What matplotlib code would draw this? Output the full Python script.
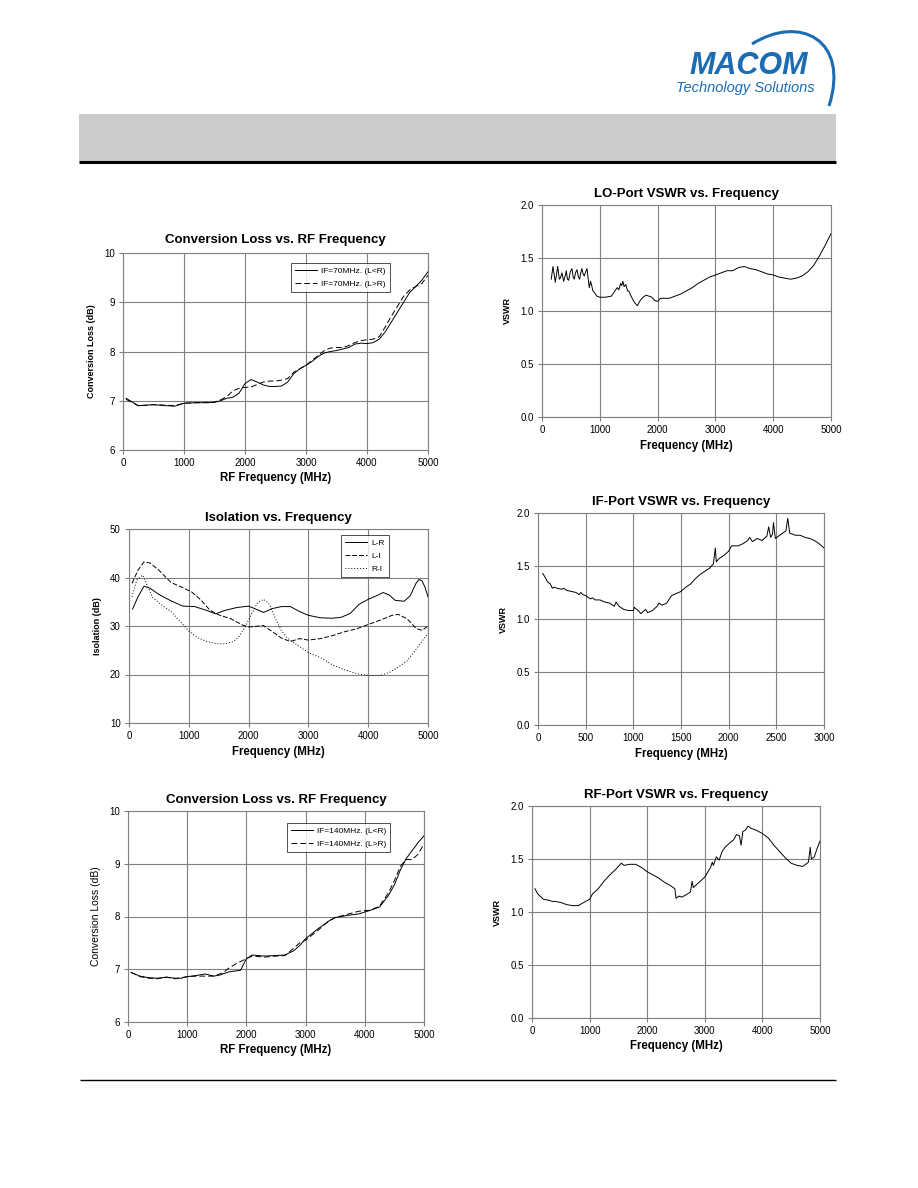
import numpy as np
import matplotlib
matplotlib.use('Agg')
import matplotlib.pyplot as plt
from matplotlib.patches import Rectangle, PathPatch
from matplotlib.path import Path

plt.rcParams['font.family'] = ['Liberation Sans', 'DejaVu Sans']

# --- Conversion loss, IF = 70 MHz ---
cl70_f_lr = [50, 250, 500, 700, 850, 1000, 1200, 1400, 1500, 1600, 1700, 1800, 1900, 2000, 2100,
             2200, 2300, 2400, 2500, 2600, 2700, 2800, 2900, 3000, 3100, 3200, 3300, 3400, 3500,
             3600, 3700, 3800, 3900, 4000, 4100, 4200, 4300, 4400, 4500, 4600, 4700, 4800, 4900, 5000]
cl70_lr = [7.05, 6.90, 6.92, 6.90, 6.89, 6.95, 6.96, 6.96, 6.97, 7.00, 7.05, 7.07, 7.15, 7.35, 7.43,
           7.38, 7.32, 7.29, 7.29, 7.30, 7.38, 7.55, 7.65, 7.72, 7.80, 7.90, 7.97, 8.00, 8.02,
           8.05, 8.08, 8.15, 8.17, 8.16, 8.18, 8.25, 8.40, 8.60, 8.80, 9.00, 9.20, 9.32, 9.45, 9.62]
cl70_f_gr = [50, 250, 500, 700, 850, 1000, 1200, 1500, 1600, 1700, 1800, 1900, 2000, 2100, 2200,
             2300, 2400, 2500, 2600, 2700, 2800, 2900, 3000, 3100, 3200, 3300, 3400, 3500, 3600,
             3700, 3800, 3900, 4000, 4100, 4200, 4300, 4400, 4500, 4600, 4700, 4800, 4900, 5000]
cl70_gr = [7.03, 6.90, 6.92, 6.91, 6.90, 6.95, 6.96, 6.97, 7.02, 7.08, 7.20, 7.25, 7.27, 7.28, 7.33,
           7.38, 7.40, 7.40, 7.42, 7.45, 7.58, 7.65, 7.72, 7.82, 7.92, 8.02, 8.07, 8.08, 8.08,
           8.12, 8.18, 8.22, 8.24, 8.25, 8.30, 8.50, 8.72, 8.92, 9.12, 9.25, 9.32, 9.38, 9.55]

# --- LO port VSWR ---
lo_f = [160, 190, 230, 271, 300, 317, 345, 374, 400, 420, 440, 461, 490, 518, 540, 559, 580, 605,
        630, 651, 670, 691, 710, 731, 755, 778, 800, 818, 840, 860, 880, 900, 950, 1000, 1100, 1200,
        1250, 1300, 1330, 1360, 1380, 1400, 1420, 1450, 1480, 1500, 1550, 1600, 1650, 1700, 1750,
        1800, 1850, 1900, 1950, 2000, 2050, 2100, 2200, 2300, 2400, 2500, 2600, 2700, 2800, 2900,
        3000, 3100, 3200, 3300, 3400, 3500, 3600, 3700, 3800, 3900, 4000, 4100, 4200, 4300, 4400,
        4500, 4600, 4700, 4800, 4900, 5000]
lo_vswr = [1.30, 1.42, 1.27, 1.42, 1.30, 1.31, 1.36, 1.28, 1.33, 1.38, 1.30, 1.29, 1.37, 1.40, 1.32,
           1.30, 1.36, 1.39, 1.32, 1.30, 1.36, 1.40, 1.35, 1.33, 1.37, 1.40, 1.30, 1.22, 1.28, 1.24,
           1.19, 1.18, 1.14, 1.13, 1.13, 1.14, 1.18, 1.22, 1.20, 1.26, 1.24, 1.28, 1.23, 1.25, 1.19,
           1.19, 1.13, 1.08, 1.05, 1.10, 1.13, 1.15, 1.14, 1.13, 1.10, 1.09, 1.12, 1.12, 1.12, 1.14,
           1.16, 1.19, 1.22, 1.26, 1.29, 1.32, 1.34, 1.36, 1.38, 1.38, 1.41, 1.42, 1.40, 1.39, 1.37,
           1.35, 1.34, 1.32, 1.31, 1.30, 1.31, 1.33, 1.37, 1.43, 1.52, 1.62, 1.73]

# --- Isolation ---
iso_f_lr = [60, 150, 250, 350, 500, 700, 900, 1100, 1300, 1450, 1600, 1800, 2000, 2100, 2250, 2400,
            2550, 2700, 2850, 3000, 3200, 3400, 3550, 3700, 3850, 4000, 4150, 4250, 4350, 4450, 4600,
            4700, 4800, 4850, 4900, 4950, 5000]
iso_lr = [33.5, 36.0, 38.2, 37.8, 36.5, 35.2, 34.1, 34.0, 33.2, 32.5, 33.2, 33.8, 34.1, 33.6, 32.8,
          33.6, 34.0, 34.0, 33.0, 32.2, 31.7, 31.6, 31.8, 32.6, 34.5, 35.5, 36.3, 36.9, 36.4, 35.3,
          35.1, 36.2, 38.8, 39.6, 39.3, 38.0, 36.0]
iso_f_li = [50, 150, 250, 350, 500, 700, 900, 1050, 1200, 1350, 1500, 1700, 1900, 2000, 2100, 2250,
            2400, 2550, 2700, 2850, 3000, 3200, 3400, 3600, 3800, 4000, 4200, 4400, 4500, 4650, 4800,
            4900, 5000]
iso_li = [38.8, 41.5, 43.2, 43.0, 41.5, 39.0, 37.9, 37.0, 35.4, 33.3, 32.3, 31.5, 30.2, 29.8, 29.9,
          30.1, 28.8, 27.5, 26.8, 27.4, 27.1, 27.4, 28.0, 28.8, 29.4, 30.3, 31.2, 32.2, 32.4, 31.5,
          29.5, 29.1, 30.0]
iso_f_ri = [50, 130, 230, 300, 400, 550, 700, 850, 1000, 1150, 1300, 1450, 1600, 1750, 1850, 1950,
            2050, 2150, 2250, 2350, 2450, 2550, 2650, 2800, 3000, 3200, 3400, 3600, 3800, 4000, 4200,
            4350, 4500, 4650, 4800, 5000]
iso_ri = [36.0, 39.5, 40.5, 38.5, 35.8, 34.3, 33.0, 31.0, 29.0, 27.6, 26.8, 26.4, 26.3, 26.8, 28.0,
          30.0, 32.5, 34.8, 35.5, 34.5, 31.5, 29.0, 27.5, 26.2, 24.5, 23.5, 22.0, 21.0, 20.2, 19.8,
          19.8, 20.4, 21.5, 22.8, 25.2, 28.5]

# --- IF port VSWR ---
if_f = [50, 70, 100, 130, 150, 170, 200, 250, 270, 300, 350, 400, 430, 450, 470, 500, 550, 570, 600,
        650, 700, 750, 800, 820, 850, 900, 950, 1000, 1010, 1050, 1080, 1100, 1130, 1150, 1200, 1250,
        1270, 1300, 1350, 1400, 1450, 1500, 1550, 1600, 1650, 1700, 1750, 1800, 1840, 1860, 1870,
        1900, 1950, 2000, 2030, 2100, 2150, 2200, 2220, 2250, 2300, 2350, 2400, 2420, 2440, 2460,
        2470, 2490, 2550, 2600, 2620, 2640, 2700, 2750, 2800, 2850, 2900, 2950, 3000]
if_vswr = [1.43, 1.40, 1.35, 1.33, 1.29, 1.30, 1.29, 1.28, 1.29, 1.27, 1.26, 1.25, 1.23, 1.25, 1.23,
           1.22, 1.19, 1.20, 1.18, 1.18, 1.16, 1.15, 1.12, 1.16, 1.12, 1.09, 1.08, 1.08, 1.11, 1.08,
           1.05, 1.07, 1.09, 1.06, 1.08, 1.12, 1.15, 1.13, 1.15, 1.22, 1.24, 1.26, 1.30, 1.33, 1.38,
           1.42, 1.45, 1.48, 1.52, 1.67, 1.54, 1.57, 1.60, 1.64, 1.69, 1.69, 1.71, 1.74, 1.77, 1.73,
           1.76, 1.74, 1.78, 1.87, 1.77, 1.80, 1.91, 1.76, 1.80, 1.83, 1.95, 1.81, 1.79, 1.79, 1.77,
           1.76, 1.74, 1.71, 1.67]

# --- Conversion loss, IF = 140 MHz ---
cl140_f_lr = [50, 200, 350, 500, 650, 800, 900, 1000, 1150, 1300, 1450, 1550, 1700, 1900, 2000, 2100,
              2300, 2500, 2650, 2800, 2900, 3000, 3200, 3400, 3500, 3700, 3900, 4100, 4250, 4400,
              4500, 4600, 4700, 4800, 4900, 5000]
cl140_lr = [6.94, 6.87, 6.84, 6.83, 6.85, 6.83, 6.83, 6.86, 6.88, 6.91, 6.87, 6.89, 6.95, 6.98, 7.20,
            7.27, 7.25, 7.26, 7.27, 7.35, 7.45, 7.58, 7.76, 7.92, 7.98, 8.02, 8.05, 8.12, 8.18, 8.40,
            8.60, 8.88, 9.10, 9.25, 9.40, 9.53]
cl140_f_gr = [50, 200, 350, 500, 650, 800, 1000, 1150, 1300, 1450, 1600, 1700, 1850, 2000, 2100, 2300,
              2500, 2650, 2750, 2900, 3000, 3200, 3400, 3500, 3700, 3900, 4100, 4250, 4400, 4500,
              4600, 4700, 4800, 4900, 5000]
cl140_gr = [6.94, 6.86, 6.83, 6.82, 6.85, 6.82, 6.86, 6.87, 6.87, 6.87, 6.93, 7.02, 7.12, 7.20, 7.25,
            7.23, 7.25, 7.26, 7.35, 7.50, 7.55, 7.73, 7.92, 7.98, 8.04, 8.10, 8.12, 8.20, 8.45, 8.68,
            8.95, 9.08, 9.08, 9.18, 9.38]

# --- RF port VSWR ---
rf_f = [50, 100, 200, 300, 350, 400, 500, 600, 700, 800, 900, 1000, 1050, 1150, 1250, 1350, 1450, 1550,
        1600, 1700, 1800, 1900, 2000, 2100, 2200, 2300, 2400, 2480, 2500, 2550, 2600, 2700, 2750, 2780,
        2800, 2900, 3000, 3100, 3130, 3150, 3200, 3250, 3300, 3350, 3450, 3500, 3550, 3600, 3630, 3660,
        3700, 3750, 3800, 3900, 4000, 4100, 4200, 4300, 4400, 4500, 4600, 4700, 4800, 4830, 4850,
        4900, 4950, 5000]
rf_vswr = [1.22, 1.17, 1.12, 1.11, 1.10, 1.10, 1.09, 1.07, 1.06, 1.06, 1.09, 1.12, 1.17, 1.22, 1.29,
           1.35, 1.40, 1.46, 1.44, 1.45, 1.45, 1.42, 1.38, 1.35, 1.32, 1.28, 1.25, 1.22, 1.13, 1.15,
           1.14, 1.17, 1.19, 1.29, 1.23, 1.28, 1.33, 1.42, 1.47, 1.44, 1.52, 1.49, 1.57, 1.61, 1.66,
           1.68, 1.73, 1.72, 1.63, 1.76, 1.77, 1.81, 1.79, 1.77, 1.74, 1.70, 1.63, 1.57, 1.51, 1.46,
           1.44, 1.43, 1.47, 1.61, 1.50, 1.52, 1.60, 1.67]

W, H = 918, 1188
fig = plt.figure(figsize=(W / 100, H / 100), dpi=100)

# page decorations (header band, rules, logo) in pixel coords
bg = fig.add_axes([0, 0, 1, 1], zorder=-1)
bg.set_xlim(0, W)
bg.set_ylim(H, 0)
bg.axis('off')
bg.add_patch(Rectangle((79, 114), 757, 47, color='#cccccc', lw=0))
bg.plot([79, 836], [162, 162], color='black', lw=2.2, solid_capstyle='butt')
bg.plot([80, 836], [1080, 1080], color='black', lw=1.0, solid_capstyle='butt')
blue = '#1c6cb1'
bg.text(749, 74, 'MACOM', color=blue, fontsize=22, fontweight='bold', style='italic',
        ha='center', va='baseline')
bg.text(745, 92, 'Technology Solutions', color=blue, fontsize=10.5, style='italic',
        ha='center', va='baseline')
swoosh = Path([(752, 44), (800, 14), (850, 40), (829, 106)],
              [Path.MOVETO, Path.CURVE4, Path.CURVE4, Path.CURVE4])
bg.add_patch(PathPatch(swoosh, fill=False, edgecolor=blue, lw=2.2))


def make_ax(x0, x1, y0, y1):
    return fig.add_axes([x0 / W, 1 - y1 / H, (x1 - x0) / W, (y1 - y0) / H])


def style(ax, xmax, xstep, ymin, ymax, ystep, yfmt, title, xlabel, ylabel,
          ylab_bold=True, tpad=7):
    ax.set_xlim(0, xmax)
    ax.set_ylim(ymin, ymax)
    ax.set_xticks(np.arange(0, xmax + 1, xstep))
    yt = np.arange(ymin, ymax + ystep / 2, ystep)
    ax.set_yticks(yt)
    ax.set_yticklabels([yfmt.format(v) for v in yt])
    ax.grid(True, color='#808080', lw=0.8)
    ax.set_axisbelow(True)
    for s in ax.spines.values():
        s.set_color('#808080')
        s.set_linewidth(0.8)
    ax.tick_params(labelsize=7, length=3, color='#808080', width=0.8, pad=3)
    ax.set_title(title, fontsize=9.5, fontweight='bold', pad=tpad)
    ax.set_xlabel(xlabel, fontsize=8.3, fontweight='bold', labelpad=3)
    ax.set_ylabel(ylabel, fontsize=6.5 if ylab_bold else 7.5,
                  fontweight='bold' if ylab_bold else 'normal', labelpad=6)


def legend(ax, loc):
    lg = ax.legend(loc='upper left', bbox_to_anchor=loc, fontsize=6, frameon=True,
                   fancybox=False, edgecolor='black', handlelength=2.6, borderpad=0.5,
                   labelspacing=0.6, handletextpad=0.5, borderaxespad=0)
    lg.get_frame().set_linewidth(0.6)


lw = 0.7

# Conversion loss 70 MHz
ax1 = make_ax(123, 428, 253, 450)
ax1.plot(cl70_f_lr, cl70_lr, color='black', lw=lw, label='IF=70MHz. (L<R)')
ax1.plot(cl70_f_gr, cl70_gr, color='black', lw=lw, ls=(0, (6, 3)), label='IF=70MHz. (L>R)')
style(ax1, 5000, 1000, 6, 10, 1, '{:.0f}', 'Conversion Loss vs. RF Frequency',
      'RF Frequency (MHz)', 'Conversion Loss (dB)')
legend(ax1, (0.551, 0.949))

# LO VSWR
ax2 = make_ax(542, 831, 205, 417)
ax2.plot(lo_f, lo_vswr, color='black', lw=lw)
style(ax2, 5000, 1000, 0, 2, 0.5, '{:.1f}', 'LO-Port VSWR vs. Frequency',
      'Frequency (MHz)', 'VSWR', tpad=6)

# Isolation
ax3 = make_ax(129, 428, 529, 723)
ax3.plot(iso_f_lr, iso_lr, color='black', lw=lw, label='L-R')
ax3.plot(iso_f_li, iso_li, color='black', lw=lw, ls=(0, (5, 2)), label='L-I')
ax3.plot(iso_f_ri, iso_ri, color='black', lw=lw, ls=(0, (1, 2)), label='R-I')
style(ax3, 5000, 1000, 10, 50, 10, '{:.0f}', 'Isolation vs. Frequency',
      'Frequency (MHz)', 'Isolation (dB)', tpad=6)
legend(ax3, (0.709, 0.969))

# IF VSWR
ax4 = make_ax(538, 824, 513, 725)
ax4.plot(if_f, if_vswr, color='black', lw=lw)
style(ax4, 3000, 500, 0, 2, 0.5, '{:.1f}', 'IF-Port VSWR vs. Frequency',
      'Frequency (MHz)', 'VSWR', tpad=6)

# Conversion loss 140 MHz
ax5 = make_ax(128, 424, 811, 1022)
ax5.plot(cl140_f_lr, cl140_lr, color='black', lw=lw, label='IF=140MHz. (L<R)')
ax5.plot(cl140_f_gr, cl140_gr, color='black', lw=lw, ls=(0, (6, 3)), label='IF=140MHz. (L>R)')
style(ax5, 5000, 1000, 6, 10, 1, '{:.0f}', 'Conversion Loss vs. RF Frequency',
      'RF Frequency (MHz)', 'Conversion Loss (dB)', ylab_bold=False, tpad=6)
legend(ax5, (0.537, 0.943))

# RF VSWR
ax6 = make_ax(532, 820, 806, 1018)
ax6.plot(rf_f, rf_vswr, color='black', lw=lw)
style(ax6, 5000, 1000, 0, 2, 0.5, '{:.1f}', 'RF-Port VSWR vs. Frequency',
      'Frequency (MHz)', 'VSWR', tpad=6)

fig.savefig('out.png', dpi=100)
